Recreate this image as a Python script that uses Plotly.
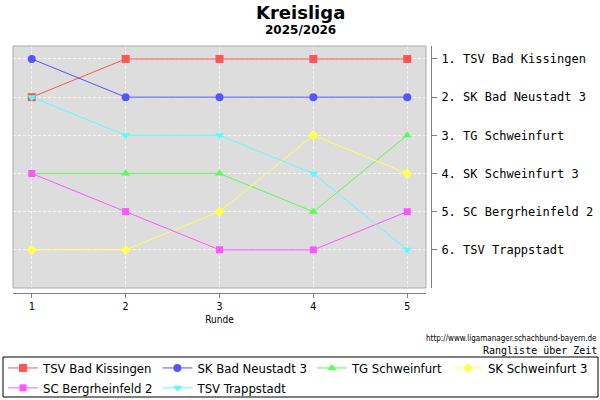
import plotly.graph_objects as go

# rank table per round
rounds = [1, 2, 3, 4, 5]
teams = ["TSV Bad Kissingen", "SK Bad Neustadt 3", "TG Schweinfurt",
         "SK Schweinfurt 3", "SC Bergrheinfeld 2", "TSV Trappstadt"]
rank_bad_kissingen = [2, 1, 1, 1, 1]
rank_bad_neustadt = [1, 2, 2, 2, 2]
rank_tg_schweinfurt = [4, 4, 4, 5, 3]
rank_sk_schweinfurt = [6, 6, 5, 3, 4]
rank_bergrheinfeld = [4, 5, 6, 6, 5]
rank_trappstadt = [2, 3, 3, 4, 6]
final_ranks = [1, 2, 3, 4, 5, 6]
final_labels = ["1. TSV Bad Kissingen", "2. SK Bad Neustadt 3", "3. TG Schweinfurt",
                "4. SK Schweinfurt 3", "5. SC Bergrheinfeld 2", "6. TSV Trappstadt"]

series = [rank_bad_kissingen, rank_bad_neustadt, rank_tg_schweinfurt,
          rank_sk_schweinfurt, rank_bergrheinfeld, rank_trappstadt]
colors = ["#FF5555", "#5555FF", "#55FF55", "#FFFF55", "#FF55FF", "#55FFFF"]
symbols = ["square", "circle", "triangle-up", "diamond", "square", "triangle-down"]
sizes = [8, 8, 8, 8, 7, 8]

W, H = 600, 400
# zero margins, so paper coords map straight onto pixels
def px(x):
    return x / W
def py(y):
    return 1 - y / H

fig = go.Figure()
for name, vals, c, s, sz in zip(teams, series, colors, symbols, sizes):
    fig.add_trace(go.Scatter(
        x=rounds, y=vals, name=name, legendgroup=name, mode="lines+markers",
        line=dict(color=c, width=1),
        marker=dict(color=c, symbol=s, size=sz),
    ))

grid = dict(showgrid=True, gridcolor="#F4F4F4", griddash="3px,2px", gridwidth=1)

fig.update_layout(
    width=W, height=H,
    margin=dict(l=0, r=0, t=0, b=0, pad=0, autoexpand=False),
    paper_bgcolor="white",
    plot_bgcolor="#DDDDDD",
    font=dict(family="DejaVu Sans", color="black"),
    showlegend=True,
    legend=dict(
        orientation="h", x=px(3), y=py(353), xanchor="left", yanchor="top",
        font=dict(size=13, family="DejaVu Sans Condensed"),
        bgcolor="rgba(0,0,0,0)", itemwidth=30, tracegroupgap=0,
        traceorder="grouped",
    ),
    xaxis=dict(
        domain=[px(13), px(426)], range=[0.8, 5.2],
        tickvals=rounds, ticks="outside", ticklen=4, tickcolor="#808080",
        showline=True, linecolor="#808080", linewidth=1,
        anchor="free", position=py(293), automargin=False,
        zeroline=False, tickfont=dict(size=10, family="DejaVu Sans Mono"),
        title=dict(text="Runde", font=dict(size=10, family="DejaVu Sans Condensed"), standoff=4),
        **grid,
    ),
    yaxis=dict(
        domain=[py(288), py(46)], range=[7.0, 0.66],
        tickvals=final_ranks, ticktext=final_labels,
        side="right", anchor="free", position=px(431), automargin=False,
        ticks="outside", ticklen=5, tickcolor="#808080", ticklabelstandoff=2,
        showline=True, linecolor="#808080", linewidth=1,
        zeroline=False, tickfont=dict(size=12, family="DejaVu Sans Mono"),
        **grid,
    ),
    shapes=[
        dict(type="rect", xref="x domain", yref="y domain", x0=0, x1=1, y0=0, y1=1,
             line=dict(color="#AAAAAA", width=1), layer="above"),
        dict(type="rect", xref="paper", yref="paper", x0=px(3), x1=px(598),
             y0=py(357), y1=py(397), line=dict(color="black", width=1)),
    ],
    annotations=[
        dict(text="<b>Kreisliga</b>", x=px(300), y=py(12), xref="paper", yref="paper",
             yanchor="middle", showarrow=False, font=dict(size=18, family="DejaVu Sans")),
        dict(text="<b>2025/2026</b>", x=px(300), y=py(30), xref="paper", yref="paper",
             yanchor="middle", showarrow=False, font=dict(size=12, family="DejaVu Sans")),
        dict(text="http://www.ligamanager.schachbund-bayern.de", x=px(599), y=py(338),
             xref="paper", yref="paper", xanchor="right", yanchor="middle", showarrow=False,
             font=dict(size=8, family="DejaVu Sans Condensed")),
        dict(text="Rangliste über Zeit", x=px(599), y=py(350),
             xref="paper", yref="paper", xanchor="right", yanchor="middle", showarrow=False,
             font=dict(size=10, family="DejaVu Sans Mono")),
    ],
)

# drop the default 8px page margin so the figure sits at the window corner
fig.write_html("out.html", config={"displayModeBar": False},
               post_script="document.body.style.margin='0px';")
